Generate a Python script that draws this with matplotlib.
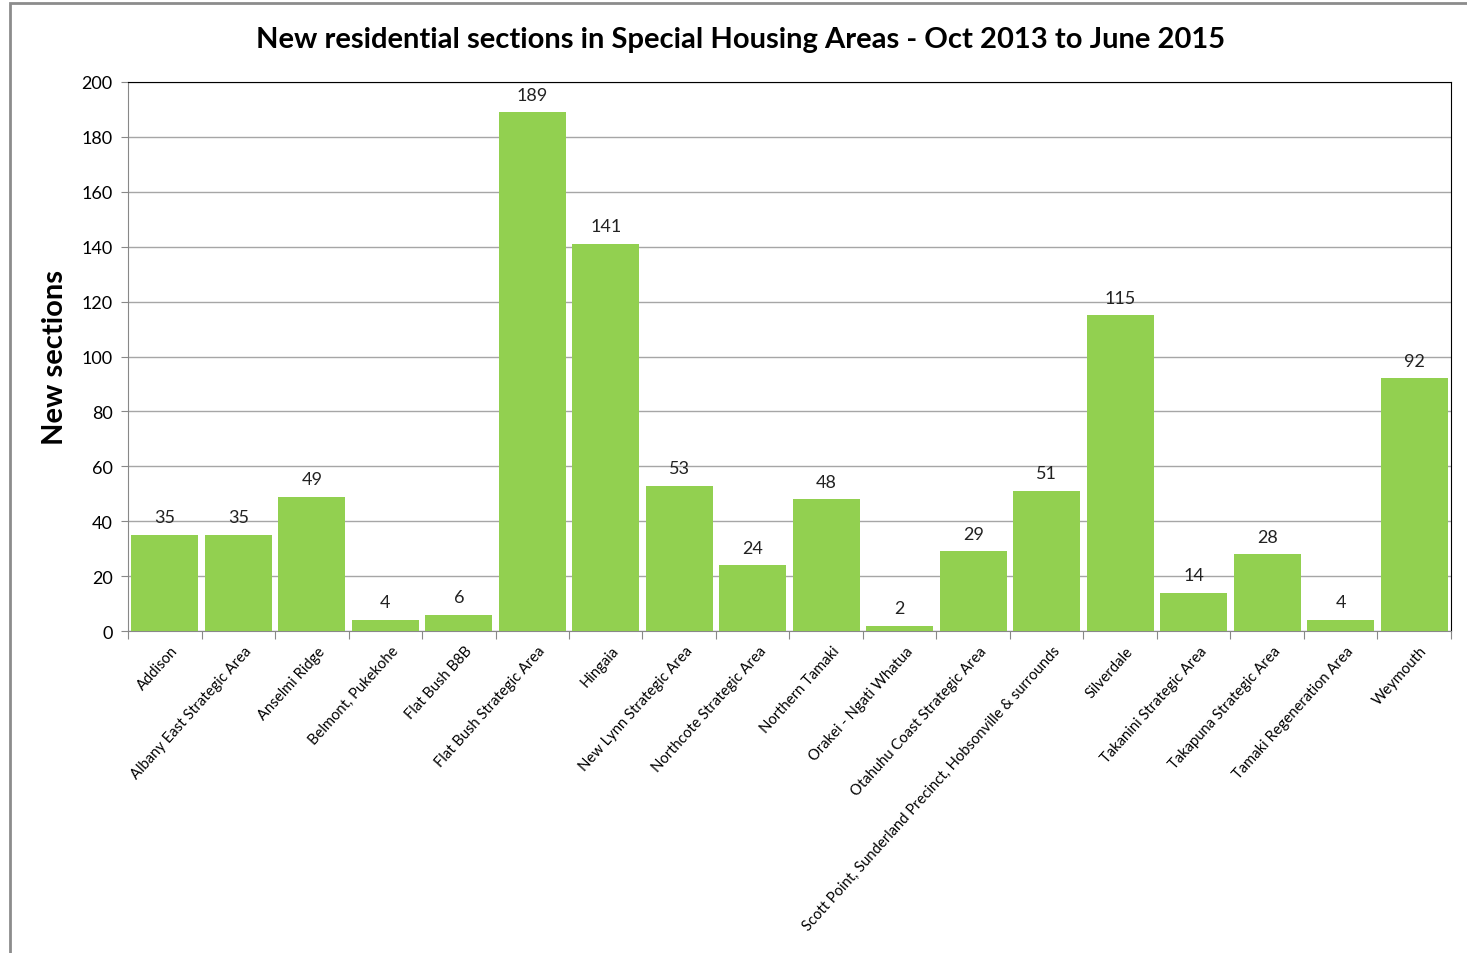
import matplotlib.pyplot as plt
from matplotlib.patches import Rectangle

areas = ["Addison", "Albany East Strategic Area", "Anselmi Ridge", "Belmont, Pukekohe",
         "Flat Bush B8B", "Flat Bush Strategic Area", "Hingaia", "New Lynn Strategic Area",
         "Northcote Strategic Area", "Northern Tamaki", "Orakei - Ngati Whatua",
         "Otahuhu Coast Strategic Area", "Scott Point, Sunderland Precinct, Hobsonville & surrounds",
         "Silverdale", "Takanini Strategic Area", "Takapuna Strategic Area",
         "Tamaki Regeneration Area", "Weymouth"]
sections = [35, 35, 49, 4, 6, 189, 141, 53, 24, 48, 2, 29, 51, 115, 14, 28, 4, 92]

plt.rcParams['font.family'] = ['Lato', 'DejaVu Sans']

fig = plt.figure(figsize=(14.67, 9.54), dpi=100)
ax = fig.add_axes([0.0873, 0.3375, 0.9017, 0.5755])

x = range(len(areas))
bars = ax.bar(x, sections, width=0.91, color='#92D050', zorder=3)
for b, v in zip(bars, sections):
    ax.text(b.get_x() + b.get_width() / 2, v + 3.5, str(v), ha='center', va='bottom',
            fontsize=13, color='#222222')

ax.set_xlim(-0.5, len(areas) - 0.5)
ax.set_ylim(0, 200)
ax.set_yticks(range(0, 201, 20))
ax.tick_params(axis='y', labelsize=13, length=5, color='#888888', pad=6)
ax.yaxis.grid(True, color='#A6A6A6', linewidth=1, zorder=0)

# category boundaries carry the ticks, labels sit at the bar centres
ax.set_xticks([i - 0.5 for i in range(len(areas) + 1)])
ax.set_xticklabels([])
ax.tick_params(axis='x', length=6, color='#888888')
for i, name in enumerate(areas):
    ax.annotate(name, xy=(i, 0), xytext=(4, -9), textcoords='offset points',
                rotation=48, ha='right', va='top', fontsize=10.6, rotation_mode='anchor')

ax.spines['left'].set_color('#888888')
ax.spines['bottom'].set_color('#888888')
ax.spines['top'].set_color('black')
ax.spines['right'].set_color('black')

ax.set_ylabel('New sections', fontsize=21, fontweight='bold', labelpad=10)
fig.text(0.505, 0.958, 'New residential sections in Special Housing Areas - Oct 2013 to June 2015',
         ha='center', va='center', fontsize=21, fontweight='bold')

# outer chart frame, open on the right and bottom
fig.add_artist(Rectangle((0.0068, -0.1), 1.2, 1.0963, transform=fig.transFigure,
                         fill=False, edgecolor='#8C8C8C', linewidth=2))

fig.savefig('out.png', dpi=100)
